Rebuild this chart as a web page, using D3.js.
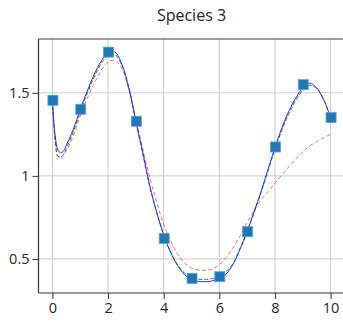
<!DOCTYPE html>
<html>
<head>
<meta charset="utf-8">
<script src="https://cdn.jsdelivr.net/npm/d3@7"></script>
<style>
  body { margin: 0; background: #fff; }
  text { font-family: "Open Sans", sans-serif; fill: #262626; }
</style>
</head>
<body>
<div id="chart"></div>
<script>
// observed points
const pointX = [0, 1, 2, 3, 4, 5, 6, 7, 8, 9, 10];
const pointY = [1.455, 1.401, 1.745, 1.329, 0.624, 0.383, 0.393, 0.664, 1.174, 1.549, 1.351];

// fitted curves at these x values
const curveX = [0, 0.1, 0.2, 0.3, 0.4, 0.5, 0.75, 1, 1.25, 1.5, 1.75, 2, 2.25, 2.5, 2.75, 3,
  3.25, 3.5, 3.75, 4, 4.25, 4.5, 4.75, 5, 5.25, 5.5, 5.75, 6, 6.25, 6.5, 6.75, 7,
  7.25, 7.5, 7.75, 8, 8.25, 8.5, 8.75, 9, 9.25, 9.5, 9.75, 10];
const blueY = [1.455, 1.24, 1.155, 1.138, 1.15, 1.185, 1.28, 1.40, 1.51, 1.61, 1.69, 1.74, 1.745, 1.67, 1.53, 1.33,
  1.14, 0.94, 0.78, 0.645, 0.54, 0.46, 0.405, 0.375, 0.365, 0.363, 0.368, 0.385, 0.41, 0.47, 0.56, 0.665,
  0.785, 0.905, 1.04, 1.17, 1.29, 1.39, 1.47, 1.53, 1.558, 1.53, 1.46, 1.35];
const greenY = [1.455, 1.22, 1.12, 1.115, 1.13, 1.165, 1.265, 1.385, 1.495, 1.595, 1.675, 1.725, 1.73, 1.665, 1.525, 1.33,
  1.13, 0.935, 0.78, 0.645, 0.54, 0.465, 0.415, 0.388, 0.378, 0.377, 0.382, 0.398, 0.425, 0.475, 0.565, 0.665,
  0.78, 0.9, 1.03, 1.16, 1.275, 1.375, 1.455, 1.515, 1.545, 1.525, 1.46, 1.35];
const redY = [1.44, 1.2, 1.11, 1.105, 1.12, 1.15, 1.24, 1.36, 1.465, 1.555, 1.635, 1.685, 1.695, 1.645, 1.52, 1.34,
  1.16, 0.99, 0.84, 0.71, 0.61, 0.53, 0.475, 0.445, 0.433, 0.432, 0.44, 0.465, 0.51, 0.57, 0.64, 0.72,
  0.79, 0.855, 0.905, 0.955, 1.005, 1.055, 1.1, 1.145, 1.18, 1.205, 1.23, 1.25];

const xTicks = [0, 2, 4, 6, 8, 10];
const yTicks = [0.5, 1, 1.5];
const title = "Species 3";

const width = 343, height = 321;
const margin = { top: 39, right: -1.5, bottom: 28, left: 38.5 };

const svg = d3.select("#chart").append("svg")
  .attr("width", width)
  .attr("height", height);

const x = d3.scaleLinear().domain([-0.5, 10.5]).range([margin.left, width - margin.right]);
const y = d3.scaleLinear().domain([0.295, 1.824]).range([height - margin.bottom, margin.top]);

svg.append("defs").append("clipPath").attr("id", "clip")
  .append("rect")
  .attr("x", margin.left).attr("y", margin.top)
  .attr("width", width - margin.left - margin.right)
  .attr("height", height - margin.top - margin.bottom);

// grid
svg.append("g").selectAll("line").data(xTicks).enter().append("line")
  .attr("x1", d => x(d)).attr("x2", d => x(d))
  .attr("y1", margin.top).attr("y2", height - margin.bottom)
  .attr("stroke", "#cccccc").attr("stroke-width", 1);
svg.append("g").selectAll("line").data(yTicks).enter().append("line")
  .attr("x1", margin.left).attr("x2", width)
  .attr("y1", d => y(d)).attr("y2", d => y(d))
  .attr("stroke", "#cccccc").attr("stroke-width", 1);

// axes
const xAxis = svg.append("g")
  .attr("transform", "translate(0," + (height - margin.bottom) + ")")
  .call(d3.axisBottom(x).tickValues(xTicks).tickSizeOuter(0).tickSize(6).tickPadding(4));
const yAxis = svg.append("g")
  .attr("transform", "translate(" + margin.left + ",0)")
  .call(d3.axisLeft(y).tickValues(yTicks).tickFormat(d => String(d)).tickSizeOuter(0).tickSize(6).tickPadding(3));
[xAxis, yAxis].forEach(a => {
  a.select(".domain").remove();
  a.selectAll("line").attr("stroke", "#333");
  a.selectAll("text").attr("font-size", "14.5px").attr("fill", "#262626")
    .attr("font-family", "'Open Sans', sans-serif");
});

// spines
svg.append("line").attr("x1", margin.left).attr("x2", margin.left)
  .attr("y1", margin.top).attr("y2", height - margin.bottom)
  .attr("stroke", "#333").attr("stroke-width", 1.2);
svg.append("line").attr("x1", margin.left).attr("x2", width)
  .attr("y1", height - margin.bottom).attr("y2", height - margin.bottom)
  .attr("stroke", "#333").attr("stroke-width", 1.2);
svg.append("line").attr("x1", margin.left).attr("x2", width)
  .attr("y1", margin.top).attr("y2", margin.top)
  .attr("stroke", "#444").attr("stroke-width", 1.2);

// curves
const line = d3.line()
  .x(d => x(d[0]))
  .y(d => y(d[1]))
  .curve(d3.curveCatmullRom);

const plot = svg.append("g").attr("clip-path", "url(#clip)");
const series = [
  { ys: redY, color: "#ff4040", dash: "4,2.5", op: 0.8 },
  { ys: greenY, color: "#008000", dash: "4,2", op: 0.9 },
  { ys: blueY, color: "#2020ff", dash: null, op: 0.95 }
];
series.forEach(s => {
  plot.append("path")
    .datum(curveX.map((v, i) => [v, s.ys[i]]))
    .attr("d", line)
    .attr("fill", "none")
    .attr("stroke", s.color)
    .attr("stroke-opacity", s.op)
    .attr("stroke-width", 1)
    .attr("stroke-dasharray", s.dash);
});

// markers
const ms = 10;
plot.selectAll("rect.pt").data(pointX).enter().append("rect")
  .attr("class", "pt")
  .attr("x", (d, i) => x(d) - ms / 2 + 0.5)
  .attr("y", (d, i) => y(pointY[i]) - ms / 2)
  .attr("width", ms).attr("height", ms)
  .attr("fill", "#1f77b4")
  .attr("stroke", "#5e9fd0")
  .attr("stroke-width", 0.8);

// title
svg.append("text")
  .attr("x", (margin.left + width - margin.right) / 2)
  .attr("y", 21)
  .attr("text-anchor", "middle")
  .attr("font-size", "16px")
  .text(title);
</script>
</body>
</html>
